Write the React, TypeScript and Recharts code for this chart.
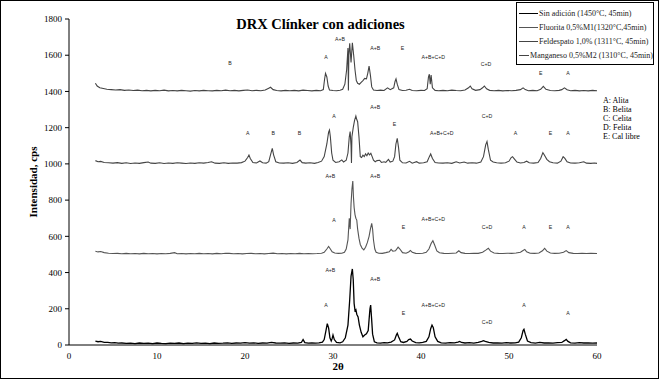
import React from 'react';
import { LineChart, Line, XAxis, YAxis, Legend, ReferenceDot } from 'recharts';

type Pt = [number, number];

const xTicks = [0, 10, 20, 30, 40, 50, 60];
const yTicks = [0, 200, 400, 600, 800, 1000, 1200, 1400, 1600, 1800];

const sinAdicion: Pt[] = [
  [3.0, 22], [3.3, 18], [3.6, 20], [4.0, 15], [4.4, 14], [4.8, 12], [5.2, 13], [5.6, 10], [6.0, 11], [6.5, 9],
  [7.0, 10], [7.5, 8], [8.0, 11], [8.5, 9], [9.0, 10], [9.5, 8], [10.0, 11], [10.5, 9], [11.0, 8], [11.5, 10],
  [12.0, 9], [12.5, 11], [13.0, 8], [13.5, 10], [14.0, 9], [14.5, 12], [15.0, 9], [15.5, 10], [16.0, 8], [16.5, 11],
  [17.0, 9], [17.5, 10], [18.0, 12], [18.5, 9], [19.0, 11], [19.5, 10], [20.0, 13], [20.5, 10], [21.0, 12], [21.5, 9],
  [22.0, 11], [22.5, 10], [23.0, 14], [23.5, 11], [24.0, 10], [24.5, 12], [25.0, 9], [25.5, 11], [26.0, 10], [26.4, 14],
  [26.6, 30], [26.8, 13], [27.2, 10], [27.6, 12], [28.0, 10], [28.4, 12], [28.8, 16], [29.0, 30], [29.2, 80], [29.35, 118],
  [29.5, 95], [29.65, 40], [29.8, 22], [29.9, 35], [30.0, 55], [30.15, 30], [30.4, 14], [30.8, 12], [31.1, 18], [31.4, 40],
  [31.7, 110], [31.9, 250], [32.05, 380], [32.2, 420], [32.3, 360], [32.4, 230], [32.5, 190], [32.6, 195], [32.7, 170], [32.85, 155],
  [33.0, 110], [33.2, 70], [33.4, 45], [33.6, 55], [33.8, 62], [34.0, 80], [34.1, 140], [34.2, 200], [34.28, 220], [34.38, 150],
  [34.5, 60], [34.7, 18], [35.0, 12], [35.4, 10], [35.8, 13], [36.2, 12], [36.6, 16], [37.0, 28], [37.2, 55], [37.3, 64],
  [37.45, 45], [37.7, 18], [38.0, 14], [38.4, 20], [38.6, 30], [38.8, 33], [39.0, 22], [39.4, 13], [39.8, 12], [40.2, 14],
  [40.6, 20], [40.9, 45], [41.1, 90], [41.25, 110], [41.4, 95], [41.6, 45], [41.9, 20], [42.3, 12], [42.8, 10], [43.3, 13],
  [43.8, 12], [44.2, 16], [44.4, 20], [44.6, 14], [45.0, 11], [45.5, 13], [46.0, 10], [46.5, 14], [46.9, 20], [47.1, 24],
  [47.3, 20], [47.7, 14], [48.2, 11], [48.7, 12], [49.2, 10], [49.7, 13], [50.2, 11], [50.7, 12], [51.1, 16], [51.4, 40],
  [51.6, 80], [51.7, 87], [51.85, 60], [52.1, 22], [52.5, 13], [53.0, 10], [53.5, 14], [54.0, 11], [54.5, 12], [55.0, 10],
  [55.5, 13], [56.0, 14], [56.3, 24], [56.5, 31], [56.7, 20], [57.0, 12], [57.5, 10], [58.0, 13], [58.5, 11], [59.0, 12],
  [59.5, 10], [60.0, 11],
];

const fluorita: Pt[] = [
  [3.0, 518], [3.3, 514], [3.6, 516], [4.0, 510], [4.5, 507], [5.0, 505], [5.5, 506], [6.0, 504], [6.5, 506], [7.0, 504],
  [7.5, 505], [8.0, 503], [8.5, 506], [9.0, 504], [9.5, 505], [10.0, 503], [10.5, 505], [11.0, 504], [11.5, 506], [12.0, 510],
  [12.3, 504], [12.8, 505], [13.3, 503], [13.8, 505], [14.3, 504], [14.8, 506], [15.3, 504], [15.8, 505], [16.3, 503], [16.8, 506],
  [17.3, 504], [17.8, 507], [18.2, 506], [18.7, 504], [19.2, 505], [19.7, 503], [20.2, 505], [20.7, 506], [21.2, 504], [21.7, 505],
  [22.2, 503], [22.7, 505], [23.2, 507], [23.7, 504], [24.2, 505], [24.7, 503], [25.2, 505], [25.7, 504], [26.2, 506], [26.7, 504],
  [27.2, 505], [27.7, 504], [28.2, 505], [28.7, 507], [29.0, 512], [29.3, 530], [29.5, 544], [29.7, 530], [29.9, 515], [30.2, 508],
  [30.6, 506], [31.0, 507], [31.3, 512], [31.5, 530], [31.7, 580], [31.85, 700], [31.95, 640], [32.05, 780], [32.15, 860], [32.25, 905],
  [32.32, 820], [32.4, 760], [32.5, 720], [32.6, 700], [32.7, 690], [32.8, 640], [32.95, 590], [33.1, 555], [33.3, 535], [33.5, 525],
  [33.7, 540], [33.9, 565], [34.1, 600], [34.25, 640], [34.4, 672], [34.5, 640], [34.6, 580], [34.75, 530], [34.9, 512], [35.2, 507],
  [35.6, 506], [36.0, 510], [36.4, 515], [36.6, 528], [36.8, 518], [37.1, 520], [37.4, 540], [37.6, 530], [37.9, 510], [38.3, 507],
  [38.6, 514], [38.8, 522], [39.0, 512], [39.4, 506], [39.8, 505], [40.2, 507], [40.6, 512], [40.9, 530], [41.15, 560], [41.35, 576],
  [41.55, 552], [41.8, 520], [42.1, 509], [42.6, 506], [43.1, 505], [43.6, 507], [44.0, 508], [44.3, 520], [44.55, 510], [45.0, 506],
  [45.5, 505], [46.0, 507], [46.5, 506], [47.0, 512], [47.4, 525], [47.65, 534], [47.9, 518], [48.3, 508], [48.8, 506], [49.3, 505],
  [49.8, 507], [50.3, 506], [50.8, 508], [51.3, 512], [51.6, 522], [51.8, 528], [52.0, 515], [52.4, 507], [52.9, 506], [53.4, 508],
  [53.8, 520], [54.05, 534], [54.3, 518], [54.7, 508], [55.2, 506], [55.7, 507], [56.2, 512], [56.5, 521], [56.8, 510], [57.3, 506],
  [57.8, 505], [58.3, 507], [58.8, 505], [59.3, 506], [60.0, 505],
];

const feldespato: Pt[] = [
  [3.0, 1018], [3.3, 1012], [3.6, 1014], [4.0, 1008], [4.5, 1006], [5.0, 1004], [5.5, 1007], [6.0, 1003], [6.5, 1006], [7.0, 1002],
  [7.5, 1005], [8.0, 1003], [8.5, 1007], [9.0, 1010], [9.3, 1004], [9.8, 1003], [10.3, 1006], [10.8, 1002], [11.3, 1005], [11.8, 1003],
  [12.3, 1006], [12.8, 1004], [13.3, 1002], [13.8, 1005], [14.3, 1003], [14.8, 1006], [15.3, 1004], [15.8, 1008], [16.2, 1012], [16.6, 1004],
  [17.1, 1003], [17.6, 1006], [18.1, 1003], [18.6, 1005], [19.1, 1004], [19.6, 1007], [20.0, 1015], [20.3, 1035], [20.45, 1049], [20.6, 1030],
  [20.9, 1008], [21.3, 1005], [21.7, 1016], [22.0, 1006], [22.4, 1004], [22.7, 1012], [22.9, 1050], [23.1, 1086], [23.25, 1050], [23.5, 1012],
  [23.9, 1005], [24.4, 1004], [24.9, 1006], [25.4, 1003], [25.9, 1008], [26.25, 1021], [26.5, 1007], [26.9, 1004], [27.4, 1006], [27.9, 1003],
  [28.3, 1008], [28.7, 1015], [29.0, 1040], [29.3, 1110], [29.5, 1175], [29.6, 1187], [29.7, 1150], [29.85, 1060], [30.0, 1020], [30.3, 1008],
  [30.7, 1012], [31.0, 1022], [31.2, 1010], [31.5, 1020], [31.7, 1060], [31.85, 1150], [31.95, 1178], [32.05, 1100], [32.1, 1005], [32.15, 1150],
  [32.3, 1200], [32.45, 1240], [32.6, 1264], [32.7, 1245], [32.8, 1233], [32.95, 1150], [33.1, 1040], [33.25, 1035], [33.4, 1048], [33.55, 1040],
  [33.7, 1055], [33.85, 1045], [34.0, 1060], [34.15, 1050], [34.3, 1058], [34.45, 1040], [34.6, 1020], [34.8, 1012], [35.0, 1018], [35.3, 1020],
  [35.5, 1008], [35.8, 1012], [36.0, 1008], [36.3, 1025], [36.5, 1010], [36.8, 1015], [37.0, 1040], [37.15, 1110], [37.3, 1141], [37.45, 1090],
  [37.6, 1020], [37.9, 1006], [38.3, 1005], [38.7, 1014], [39.0, 1004], [39.5, 1012], [39.8, 1004], [40.3, 1006], [40.7, 1012], [40.95, 1040],
  [41.1, 1055], [41.3, 1030], [41.6, 1008], [42.0, 1005], [42.5, 1004], [43.0, 1006], [43.5, 1003], [44.0, 1012], [44.4, 1005], [44.9, 1010],
  [45.3, 1004], [45.8, 1006], [46.3, 1004], [46.8, 1010], [47.1, 1040], [47.35, 1105], [47.5, 1123], [47.65, 1080], [47.9, 1020], [48.2, 1010],
  [48.6, 1006], [49.1, 1004], [49.6, 1006], [50.0, 1015], [50.25, 1035], [50.4, 1040], [50.6, 1028], [50.9, 1010], [51.3, 1005], [51.7, 1008],
  [52.0, 1015], [52.3, 1006], [52.8, 1004], [53.3, 1008], [53.6, 1030], [53.85, 1062], [54.0, 1050], [54.3, 1025], [54.6, 1012], [55.0, 1006],
  [55.5, 1004], [55.9, 1015], [56.15, 1040], [56.35, 1030], [56.6, 1012], [57.0, 1005], [57.5, 1004], [58.0, 1006], [58.5, 1012], [58.8, 1004],
  [59.3, 1003], [59.7, 1005], [60.0, 1003],
];

const manganeso: Pt[] = [
  [3.0, 1445], [3.2, 1430], [3.5, 1420], [3.9, 1416], [4.3, 1412], [4.8, 1410], [5.3, 1408], [5.8, 1410], [6.3, 1406], [6.8, 1408],
  [7.3, 1405], [7.8, 1407], [8.3, 1404], [8.8, 1406], [9.3, 1403], [9.8, 1406], [10.3, 1404], [10.8, 1407], [11.3, 1403], [11.8, 1405],
  [12.3, 1403], [12.8, 1406], [13.3, 1404], [13.8, 1402], [14.3, 1405], [14.8, 1403], [15.3, 1406], [15.8, 1404], [16.3, 1403], [16.8, 1406],
  [17.3, 1404], [17.8, 1407], [18.3, 1404], [18.8, 1406], [19.3, 1403], [19.8, 1406], [20.3, 1408], [20.8, 1404], [21.3, 1406], [21.8, 1404],
  [22.3, 1408], [22.7, 1418], [22.9, 1423], [23.2, 1410], [23.6, 1405], [24.1, 1403], [24.6, 1406], [25.1, 1404], [25.6, 1406], [26.1, 1403],
  [26.6, 1407], [27.1, 1405], [27.6, 1403], [28.1, 1406], [28.6, 1404], [28.9, 1410], [29.05, 1470], [29.15, 1500], [29.3, 1480], [29.45, 1430],
  [29.6, 1408], [30.0, 1405], [30.4, 1404], [30.8, 1407], [31.1, 1412], [31.35, 1440], [31.55, 1520], [31.7, 1640], [31.75, 1405], [31.8, 1600],
  [31.9, 1666], [32.05, 1560], [32.2, 1669], [32.35, 1600], [32.5, 1520], [32.65, 1460], [32.8, 1445], [33.0, 1440], [33.2, 1450], [33.4, 1460],
  [33.6, 1472], [33.8, 1470], [33.95, 1500], [34.1, 1540], [34.25, 1490], [34.4, 1425], [34.6, 1408], [35.0, 1405], [35.4, 1407], [35.8, 1405],
  [36.2, 1420], [36.5, 1410], [36.9, 1420], [37.05, 1455], [37.16, 1469], [37.3, 1440], [37.5, 1410], [37.9, 1405], [38.3, 1407], [38.7, 1412],
  [39.0, 1405], [39.5, 1404], [40.0, 1406], [40.4, 1405], [40.7, 1415], [40.85, 1480], [40.95, 1495], [41.05, 1440], [41.15, 1490], [41.3, 1420],
  [41.6, 1406], [42.0, 1404], [42.5, 1406], [43.0, 1404], [43.5, 1407], [44.0, 1405], [44.5, 1404], [45.0, 1408], [45.4, 1420], [45.6, 1430],
  [45.8, 1415], [46.2, 1406], [46.7, 1410], [47.0, 1420], [47.2, 1430], [47.45, 1415], [47.8, 1406], [48.3, 1404], [48.8, 1406], [49.3, 1403],
  [49.8, 1405], [50.3, 1404], [50.8, 1406], [51.3, 1410], [51.6, 1420], [51.85, 1410], [52.2, 1404], [52.7, 1406], [53.2, 1404], [53.6, 1412],
  [53.9, 1428], [54.2, 1412], [54.7, 1405], [55.2, 1404], [55.7, 1406], [56.0, 1410], [56.3, 1420], [56.6, 1409], [57.0, 1404], [57.5, 1406],
  [58.0, 1403], [58.5, 1405], [59.0, 1403], [59.5, 1406], [60.0, 1404],
];

const seriesNames = [
  'Sin adición (1450°C, 45min)',
  'Fluorita 0,5%M1(1320°C,45min)',
  'Feldespato 1,0% (1311°C, 45min)',
  'Manganeso 0,5%M2 (1310°C, 45min)',
];
const seriesColors = ['#000000', '#555555', '#444444', '#444444'];
const seriesWidths = [1.3, 1.1, 1.1, 1.1];
const seriesData = [sinAdicion, fluorita, feldespato, manganeso];

const peakLabels: [number, number, string][] = [
  [29.7, 414, 'A+B'], [34.8, 363, 'A+B'], [29.2, 221, 'A'], [38.0, 177, 'E'], [41.4, 221, 'A+B+C+D'],
  [47.5, 129, 'C+D'], [51.7, 221, 'A'], [56.7, 177, 'A'],
  [29.7, 933, 'A+B'], [34.8, 933, 'A+B'], [30.1, 690, 'A'], [38.0, 653, 'E'], [41.4, 694, 'A+B+C+D'],
  [47.5, 653, 'C+D'], [51.7, 653, 'A'], [54.7, 653, 'E'], [56.7, 653, 'A'],
  [20.3, 1169, 'A'], [23.2, 1169, 'B'], [26.2, 1169, 'B'], [30.1, 1264, 'A'], [34.8, 1316, 'A+B'],
  [37.0, 1220, 'E'], [42.35, 1169, 'A+B+C+D'], [47.5, 1266, 'C+D'], [50.75, 1169, 'A'], [54.7, 1169, 'E'], [56.7, 1169, 'A'],
  [18.3, 1555, 'B'], [29.2, 1592, 'A'], [30.8, 1688, 'A+B'], [34.8, 1642, 'A+B'], [37.9, 1642, 'E'],
  [41.4, 1592, 'A+B+C+D'], [47.4, 1550, 'C+D'], [53.6, 1502, 'E'], [56.7, 1502, 'A'],
];

const phaseKey = ['A: Alita', 'B: Belita', 'C: Celita', 'D: Felita', 'E: Cal libre'];

const SERIF = '"Liberation Serif", "Times New Roman", serif';
const SANS = '"Liberation Sans", Arial, sans-serif';

const toRows = (pts: Pt[]) => pts.map(([t, c]) => ({ t, c }));

const LegendBox = () => (
  <div
    style={{
      width: 138,
      height: 63,
      border: '1px solid #000',
      boxSizing: 'border-box',
      background: '#fff',
      paddingTop: 3,
    }}
  >
    {seriesNames.map((n, i) => (
      <div key={n} style={{ display: 'flex', alignItems: 'center', height: 14.2 }}>
        <span
          style={{
            display: 'inline-block',
            width: 19,
            height: 0,
            borderTop: `1px solid ${seriesColors[i]}`,
            marginLeft: 2,
            marginRight: 1,
          }}
        />
        <span style={{ fontFamily: SERIF, fontSize: 8, color: '#222', whiteSpace: 'nowrap', lineHeight: '9px' }}>
          {n}
        </span>
      </div>
    ))}
  </div>
);

export default function App() {
  return (
    <div style={{ position: 'absolute', left: 0, top: 0, width: 659, height: 379, background: '#fff' }}>
      <LineChart width={659} height={379} margin={{ top: 19, right: 62, bottom: 4, left: 9 }}>
        <XAxis
          dataKey="t"
          type="number"
          domain={[0, 60]}
          ticks={xTicks}
          interval={0}
          allowDuplicatedCategory={false}
          height={30}
          tickLine={false}
          axisLine={{ stroke: '#000' }}
          tick={{ fontSize: 9, fontFamily: SERIF, fill: '#000' }}
          label={(props: any) => {
            const vb = props.viewBox || {};
            return (
              <text
                x={(vb.x ?? 69) + (vb.width ?? 528) / 2 + 5}
                y={(vb.y ?? 345) + 25}
                textAnchor="middle"
                fontFamily={SERIF}
                fontWeight="bold"
                fontSize={11}
                fill="#000"
              >
                2θ
              </text>
            );
          }}
        />
        <YAxis
          type="number"
          domain={[0, 1800]}
          ticks={yTicks}
          interval={0}
          width={60}
          tickSize={4}
          tickMargin={3}
          axisLine={{ stroke: '#000' }}
          tickLine={{ stroke: '#000' }}
          tick={{ fontSize: 9, fontFamily: SERIF, fill: '#000' }}
          label={(props: any) => {
            const vb = props.viewBox || {};
            const x = (vb.x ?? 9) + 24;
            const y = (vb.y ?? 19) + (vb.height ?? 326) / 2;
            return (
              <text
                x={x}
                y={y}
                transform={`rotate(-90 ${x} ${y})`}
                textAnchor="middle"
                dominantBaseline="central"
                fontFamily={SERIF}
                fontWeight="bold"
                fontSize={11}
                fill="#000"
              >
                Intensidad, cps
              </text>
            );
          }}
        />
        <Legend
          layout="vertical"
          align="center"
          verticalAlign="middle"
          wrapperStyle={{ left: 516, top: 2, width: 138, height: 63 }}
          content={() => <LegendBox />}
        />
        {seriesData.map((pts, i) => (
          <Line
            key={seriesNames[i]}
            name={seriesNames[i]}
            data={toRows(pts)}
            dataKey="c"
            type="linear"
            stroke={seriesColors[i]}
            strokeWidth={seriesWidths[i]}
            dot={false}
            activeDot={false}
            isAnimationActive={false}
          />
        ))}
        {peakLabels.map(([t, c, s], i) => (
          <ReferenceDot
            key={`pl-${i}`}
            x={t}
            y={c}
            r={0}
            ifOverflow="visible"
            shape={(p: any) => (
              <text
                x={p.cx}
                y={p.cy}
                textAnchor="middle"
                dominantBaseline="central"
                fontFamily={SANS}
                fontSize={5.2}
                fill="#222"
              >
                {s}
              </text>
            )}
          />
        ))}
      </LineChart>
      <div
        style={{
          position: 'absolute',
          left: 0,
          top: 17,
          width: 641,
          textAlign: 'center',
          fontFamily: SERIF,
          fontWeight: 'bold',
          fontSize: 14.5,
          lineHeight: '14.5px',
          color: '#000',
          whiteSpace: 'nowrap',
        }}
      >
        DRX Clínker con adiciones
      </div>
      <div style={{ position: 'absolute', left: 603, top: 95.5, fontFamily: SERIF, fontSize: 8, lineHeight: '9px', color: '#000' }}>
        {phaseKey.map((k) => (
          <div key={k} style={{ whiteSpace: 'nowrap' }}>{k}</div>
        ))}
      </div>
      <div
        style={{
          position: 'absolute',
          left: 0,
          top: 0,
          width: 659,
          height: 379,
          border: '1px solid #000',
          boxSizing: 'border-box',
          pointerEvents: 'none',
        }}
      />
    </div>
  );
}
